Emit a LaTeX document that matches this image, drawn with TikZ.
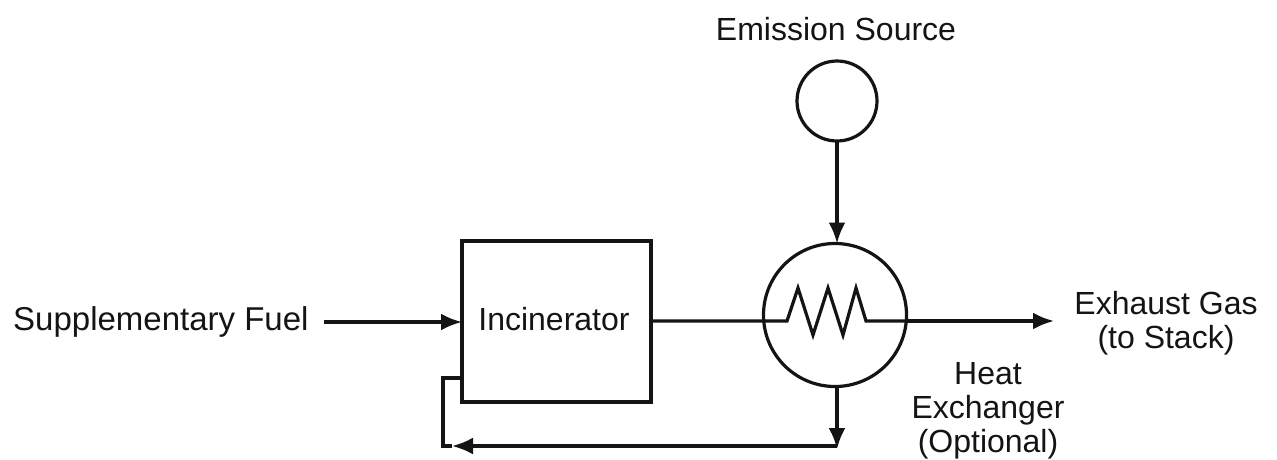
\documentclass[tikz,border=0pt]{standalone}
\usepackage{fontspec}
\setmainfont{Liberation Sans}
\usetikzlibrary{arrows.meta}
\tikzset{
  ln/.style={draw=black!92,line width=3.2pt},
  arr/.style={ln,-{Latex[length=21pt,width=17pt]}},
  lbl/.style={font=\fontsize{32pt}{34pt}\selectfont,text=black!92,align=center,inner sep=0pt}
}
\begin{document}
\begin{tikzpicture}[x=1pt,y=-1pt]
\useasboundingbox (0,0) rectangle (1277,459);
\fill[white] (0,0) rectangle (1277,459);
\node[lbl] (es) at (836,29) {Emission Source};
\node[ln,circle,minimum size=80pt,inner sep=0pt,outer sep=0pt] (src) at (837,101) {};
\node[ln,circle,minimum size=143pt,inner sep=0pt,outer sep=0pt] (hx) at (835,315) {};
\node[ln,rectangle,minimum width=189pt,minimum height=161pt,inner sep=0pt,outer sep=0pt] (inc) at (556.5,321.5) {};
\node[lbl] at (554,319) {Incinerator};
\node[lbl,anchor=west,font=\fontsize{33pt}{35pt}\selectfont] (fuel) at (13,322) {Supplementary Fuel};
\node[lbl] (gas) at (1166,323) {Exhaust Gas\\(to Stack)};
\node[lbl] (hl) at (988,411) {Heat\\Exchanger\\(Optional)};
\coordinate (fs) at (324,322);
\coordinate (ge) at (1054,321);
\coordinate (z1) at (787,321);
\coordinate (z2) at (798,288);
\coordinate (z3) at (813,335);
\coordinate (z4) at (828,288);
\coordinate (z5) at (843,335);
\coordinate (z6) at (856,288);
\coordinate (z7) at (866,321);
\coordinate (i1) at (462,378);
\coordinate (i2) at (443,378);
\coordinate (i3) at (443,446);
\coordinate (i4) at (452,446);
\coordinate (b1) at (837,449);
\coordinate (b2) at (837,446);
\draw[arr] (fs) -- (inc.west |- fs);
\draw[arr] (src.south) -- (src.south |- hx.north);
\draw[ln] (inc.east |- z1) -- (z1) -- (z2) -- (z3) -- (z4) -- (z5) -- (z6) -- (z7) -- (hx.east |- z7);
\draw[arr] (hx.east |- z7) -- (ge);
\draw[arr] (b1 |- hx.south) -- (b1);
\draw[ln] (i1) -- (i2) -- (i3) -- (i4);
\draw[arr] (b2) -- (i4);
\end{tikzpicture}
\end{document}
